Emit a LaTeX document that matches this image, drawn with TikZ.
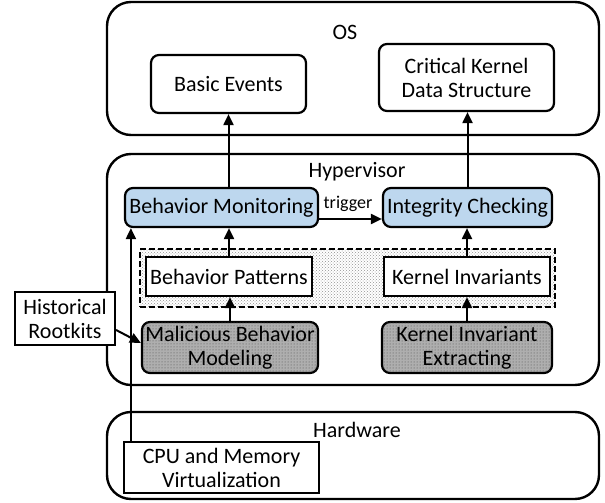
\documentclass[tikz,border=0pt]{standalone}
\usepackage{fontspec}
\setmainfont{Carlito}
\usetikzlibrary{arrows.meta,patterns}
\definecolor{bmblue}{HTML}{BDD7EE}
\definecolor{mgray}{HTML}{AEAEAE}
\begin{document}
\begin{tikzpicture}[x=1pt,y=-1pt,
  every node/.style={font=\fontsize{22}{24}\selectfont},
  layer/.style={draw,line width=2.4pt,rounded corners=24pt,inner sep=0pt},
  rbox/.style={draw,line width=2.2pt,rounded corners=8pt,align=center,inner sep=0pt,fill=white},
  sbox/.style={draw,line width=2.2pt,align=center,inner sep=0pt,fill=white},
  bluebox/.style={rbox,fill=bmblue},
  graybox/.style={rbox,fill=mgray,postaction={pattern=dots,pattern color=gray!60!black}},
  arr/.style={-{Triangle[length=11pt,width=10pt]},line width=2pt},
  lbl/.style={inner sep=0pt}
]
\useasboundingbox (0,0) rectangle (605,503);
\fill[white] (0,0) rectangle (605,503);
% layers
\node[layer,minimum width=492,minimum height=133] (os) at (353,68.5) {};
\node[layer,minimum width=492,minimum height=231] (hyp) at (353,269.5) {};
\node[layer,minimum width=492,minimum height=87] (hw) at (353,455.5) {};
\node[lbl] (oslbl) at (345,32) {OS};
\node[lbl] (hyplbl) at (357,172) {Hypervisor};
\node[lbl] (hwlbl) at (357,430) {Hardware};
% OS boxes
\node[rbox,minimum width=155,minimum height=58] (be) at (228.5,84) {Basic Events};
\node[rbox,minimum width=175,minimum height=67] (ck) at (466.5,77.5) {Critical Kernel\\Data Structure};
% hypervisor
\node[bluebox,minimum width=193,minimum height=39] (bm) at (221.5,207.5) {Behavior Monitoring};
\node[bluebox,minimum width=169,minimum height=39] (ic) at (467.5,207.5) {Integrity Checking};
\node[draw,line width=2.4pt,dash pattern=on 6pt off 3pt,minimum width=415,minimum height=58,inner sep=0pt,
      pattern=crosshatch dots,pattern color=gray!85] (kb) at (347.5,278) {};
\node[sbox,minimum width=166,minimum height=39] (bp) at (229,276.5) {Behavior Patterns};
\node[sbox,minimum width=166,minimum height=39] (ki) at (467,276.5) {Kernel Invariants};
\node[graybox,minimum width=176,minimum height=51] (mbm) at (230,347.5) {Malicious Behavior\\Modeling};
\node[graybox,minimum width=170,minimum height=51] (kie) at (467,347.5) {Kernel Invariant\\Extracting};
% outside
\node[sbox,minimum width=100,minimum height=53] (hr) at (65,318.5) {Historical\\Rootkits};
\node[sbox,minimum width=195,minimum height=51] (cpu) at (221.5,467.5) {CPU and Memory\\Virtualization};
% arrows
\draw[arr] (be.south |- bm.north) -- (be.south);
\draw[arr] (ic.north) -- (ic.north |- ck.south);
\draw[arr] ([yshift=-11.5pt]bm.east) coordinate (t1) -- (t1 -| ic.west);
\node[lbl,font=\fontsize{18}{20}\selectfont] (trig) at (348,204) {trigger};
\draw[arr] (bp.north) -- (bp.north |- bm.south);
\draw[arr] (mbm.north) -- (mbm.north |- bp.south);
\draw[arr] (ki.north) -- (ki.north |- ic.south);
\draw[arr] (kie.north) -- (kie.north |- ki.south);
\draw[arr] ([xshift=8pt]cpu.north west) coordinate (c1) -- (c1 |- bm.south);
\draw[arr] ([yshift=-11.5pt]hr.east) -- ([yshift=4.5pt]mbm.west);
\end{tikzpicture}
\end{document}
